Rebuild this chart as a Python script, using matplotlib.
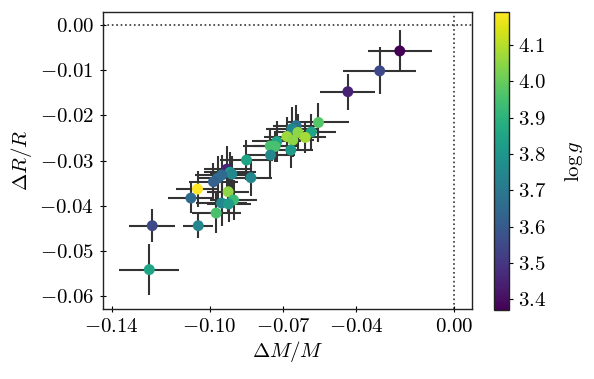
import matplotlib
matplotlib.use('Agg')
import matplotlib.pyplot as plt
import numpy as np

plt.rcParams['mathtext.fontset'] = 'cm'
plt.rcParams['font.family'] = 'serif'
plt.rcParams['font.serif'] = ['cmr10', 'DejaVu Serif']
plt.rcParams['axes.unicode_minus'] = False

# Data
dm = [-0.0223, -0.0305, -0.0435, -0.0555, -0.0584, -0.0646, -0.0664, -0.0639,
      -0.0609, -0.0684, -0.0660, -0.0725, -0.0752, -0.0732, -0.0668, -0.0751,
      -0.0849, -0.0831, -0.0929, -0.0916, -0.0909, -0.0950, -0.0967, -0.0984,
      -0.1049, -0.0924, -0.1076, -0.0902, -0.0951, -0.0922, -0.0973, -0.1046,
      -0.1234, -0.1246]
dr = [-0.0058, -0.0102, -0.0148, -0.0216, -0.0237, -0.0223, -0.0230, -0.0238,
      -0.0249, -0.0247, -0.0255, -0.0258, -0.0268, -0.0269, -0.0277, -0.0288,
      -0.0299, -0.0338, -0.0319, -0.0326, -0.0330, -0.0332, -0.0339, -0.0347,
      -0.0363, -0.0369, -0.0383, -0.0387, -0.0394, -0.0396, -0.0416, -0.0444,
      -0.0444, -0.0541]
dm_err = [0.0131, 0.0148, 0.0112, 0.0124, 0.0100, 0.0095, 0.0105, 0.0090,
          0.0085, 0.0095, 0.0088, 0.0100, 0.0110, 0.0092, 0.0090, 0.0100,
          0.0110, 0.0085, 0.0095, 0.0105, 0.0090, 0.0110, 0.0085, 0.0100,
          0.0087, 0.0085, 0.0093, 0.0095, 0.0105, 0.0090, 0.0100, 0.0062,
          0.0095, 0.0122]
dr_err = [0.0047, 0.0052, 0.0040, 0.0043, 0.0040, 0.0045, 0.0048, 0.0040,
          0.0035, 0.0042, 0.0038, 0.0045, 0.0040, 0.0035, 0.0040, 0.0050,
          0.0045, 0.0040, 0.0050, 0.0045, 0.0040, 0.0045, 0.0050, 0.0042,
          0.0040, 0.0045, 0.0034, 0.0045, 0.0050, 0.0040, 0.0045, 0.0027,
          0.0036, 0.0056]
logg = [3.37, 3.55, 3.45, 3.97, 3.85, 3.68, 3.75, 4.05, 4.08, 4.07, 4.05, 3.85,
        3.95, 3.95, 3.82, 3.75, 3.85, 3.75, 3.45, 3.82, 3.75, 3.65, 3.65, 3.62,
        4.19, 4.05, 3.65, 3.93, 3.75, 3.82, 3.95, 3.75, 3.55, 3.85]

xticks = [-0.14, -0.10, -0.07, -0.04, 0.00]
yticks = [0.00, -0.01, -0.02, -0.03, -0.04, -0.05, -0.06]
cticks = [3.4, 3.5, 3.6, 3.7, 3.8, 3.9, 4.0, 4.1]

fig = plt.figure(figsize=(5.94, 3.79), dpi=100)
ax = fig.add_axes([0.1734, 0.1847, 0.6212, 0.7836])
cax = fig.add_axes([0.8316, 0.182, 0.0258, 0.7855])

ax.axhline(0, color='#333333', ls=':', lw=1.2, zorder=1)
ax.axvline(0, color='#333333', ls=':', lw=1.2, zorder=1)

ax.errorbar(dm, dr, xerr=dm_err, yerr=dr_err, fmt='none', ecolor='#333333',
            elinewidth=1.5, capsize=0, zorder=2)
sc = ax.scatter(dm, dr, c=logg, cmap='viridis', s=62, edgecolors='none', zorder=3)

ax.set_xlim(-0.1435, 0.0072)
ax.set_ylim(-0.0628, 0.0028)
ax.set_xticks(xticks)
ax.set_xticklabels([r'$%.2f$' % t for t in xticks])
ax.set_yticks(yticks)
ax.set_yticklabels([r'$%.2f$' % t if t != 0 else r'$0.00$' for t in yticks])
ax.tick_params(direction='inout', length=5, width=0.8, labelsize=15, pad=4)
for s in ax.spines.values():
    s.set_color('#222222')
    s.set_linewidth(1.0)

ax.set_xlabel(r'$\Delta M/M$', fontsize=15, labelpad=2)
ax.set_ylabel(r'$\Delta R/R$', fontsize=15, labelpad=4)

cb = fig.colorbar(sc, cax=cax)
cb.set_ticks(cticks)
cb.set_ticklabels([r'$%.1f$' % t for t in cticks])
cb.ax.tick_params(direction='out', length=3, width=0.8, labelsize=15, pad=3)
cb.outline.set_edgecolor('#222222')
cb.outline.set_linewidth(1.0)
cb.set_label(r'$\log g$', fontsize=15, labelpad=12)

fig.savefig('out.png', dpi=100)
